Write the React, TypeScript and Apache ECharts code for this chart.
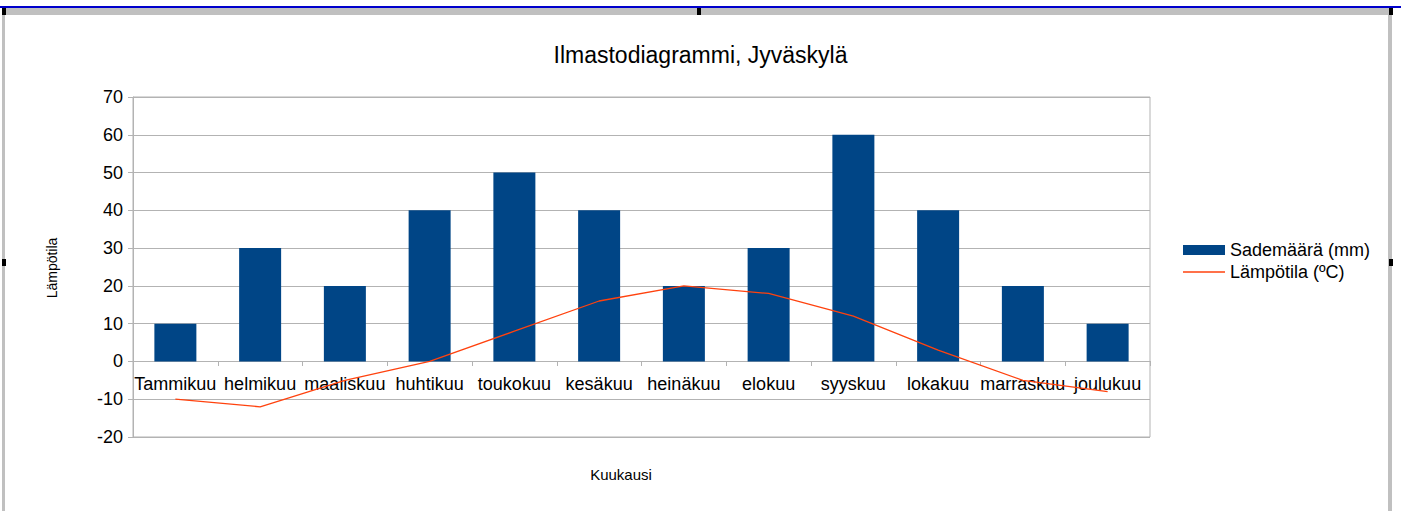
import React, { useEffect, useRef } from "react";
import * as echarts from "echarts";

const months = ["Tammikuu", "helmikuu", "maaliskuu", "huhtikuu", "toukokuu", "kesäkuu", "heinäkuu", "elokuu", "syyskuu", "lokakuu", "marraskuu", "joulukuu"];
const precipitation = [10, 30, 20, 40, 50, 40, 20, 30, 60, 40, 20, 10];
const temperature = [-10, -12, -5, 0, 8, 16, 20, 18, 12, 3, -5, -8];
const yTicks = { min: -20, max: 70, interval: 10 };

export default function App() {
  const ref = useRef<HTMLDivElement>(null);
  useEffect(() => {
    const chart = echarts.init(ref.current!, null, { renderer: "svg" });
    const font = "'Liberation Sans', Arial, sans-serif";
    const gray = "#b3b3b3";
    chart.setOption({
      animation: false,
      backgroundColor: "#ffffff",
      textStyle: { fontFamily: font },
      title: {
        text: "Ilmastodiagrammi, Jyväskylä",
        left: "center",
        top: 38,
        textStyle: { fontFamily: font, fontSize: 23, fontWeight: "normal", color: "#000" },
      },
      legend: {
        orient: "vertical",
        left: 1178,
        top: 236,
        itemWidth: 42,
        itemHeight: 10,
        itemGap: 4,
        textStyle: { fontFamily: font, fontSize: 18, color: "#000" },
        data: [
          { name: "Sademäärä (mm)", icon: "rect" },
          { name: "Lämpötila (ºC)", icon: "path://M0,0 H42 V1.4 H0 Z" },
        ],
      },
      grid: {
        left: 133,
        right: 251,
        top: 97,
        bottom: 74,
        show: true,
        borderColor: gray,
        borderWidth: 1,
      },
      xAxis: {
        type: "category",
        data: months,
        offset: -76,
        axisLine: { show: true, onZero: false, lineStyle: { color: gray } },
        axisTick: { show: true, length: 5, lineStyle: { color: gray } },
        axisLabel: { fontFamily: font, fontSize: 18, color: "#000", interval: 0, margin: 14 },
      },
      yAxis: {
        type: "value",
        min: yTicks.min,
        max: yTicks.max,
        interval: yTicks.interval,
        axisLine: { show: true, lineStyle: { color: gray } },
        axisTick: { show: true, length: 5, lineStyle: { color: gray } },
        axisLabel: { fontFamily: font, fontSize: 18, color: "#000", margin: 10 },
        splitLine: { show: true, lineStyle: { color: gray } },
      },
      graphic: [
        { type: "rect", shape: { x: 0, y: 6, width: 1401, height: 2 }, style: { fill: "#0000cc" } },
        { type: "rect", shape: { x: 3, y: 8, width: 1389, height: 7 }, style: { fill: "#c0c0c0" } },
        { type: "rect", shape: { x: 2, y: 8, width: 3, height: 503 }, style: { fill: "#c0c0c0" } },
        { type: "rect", shape: { x: 1388, y: 8, width: 4, height: 503 }, style: { fill: "#c0c0c0" } },
        { type: "rect", shape: { x: 2, y: 8, width: 4, height: 7 }, style: { fill: "#000" } },
        { type: "rect", shape: { x: 697, y: 8, width: 4, height: 7 }, style: { fill: "#000" } },
        { type: "rect", shape: { x: 1389, y: 8, width: 4, height: 7 }, style: { fill: "#000" } },
        { type: "rect", shape: { x: 1389, y: 259, width: 4, height: 7 }, style: { fill: "#000" } },
        { type: "rect", shape: { x: 2, y: 259, width: 4, height: 7 }, style: { fill: "#000" } },
        {
          type: "text",
          x: 52,
          y: 268,
          rotation: Math.PI / 2,
          style: { text: "Lämpötila", fontFamily: font, fontSize: 14, fill: "#000", align: "center", verticalAlign: "middle" },
        },
        {
          type: "text",
          x: 621,
          y: 474,
          style: { text: "Kuukausi", fontFamily: font, fontSize: 15, fill: "#000", align: "center", verticalAlign: "middle" },
        },
      ],
      series: [
        {
          name: "Sademäärä (mm)",
          type: "bar",
          data: precipitation,
          barWidth: 42,
          itemStyle: { color: "#004586" },
        },
        {
          name: "Lämpötila (ºC)",
          type: "line",
          data: temperature,
          symbol: "none",
          lineStyle: { color: "#ff420e", width: 1.3 },
          itemStyle: { color: "#ff420e" },
          z: 5,
        },
      ],
    });
    return () => chart.dispose();
  }, []);
  return <div ref={ref} style={{ position: "absolute", left: 0, top: 0, width: 1401, height: 511 }} />;
}
